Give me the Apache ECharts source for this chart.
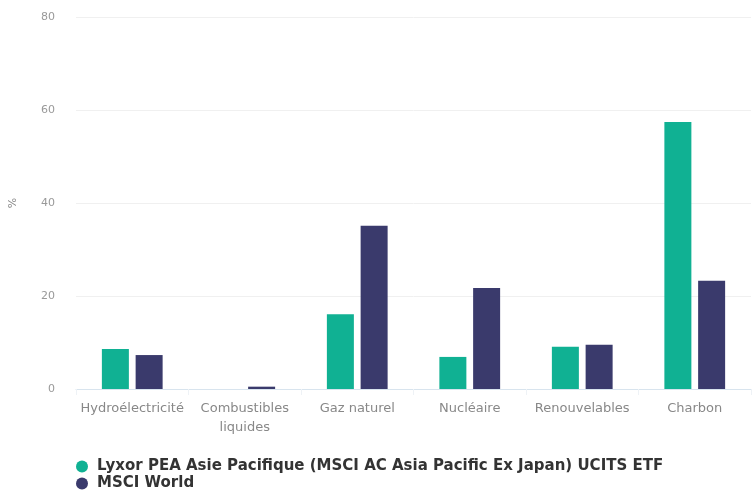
<!DOCTYPE html>
<html>
<head>
<meta charset="utf-8">
<script src="https://cdn.jsdelivr.net/npm/echarts@6/dist/echarts.min.js"></script>
<style>
  html, body { margin: 0; padding: 0; background: #fff; }
  #chart { width: 754px; height: 494px; }
</style>
</head>
<body>
<div id="chart"></div>
<script>
    const categories = ['Hydroélectricité', 'Combustibles\nliquides', 'Gaz naturel', 'Nucléaire', 'Renouvelables', 'Charbon'];
    const lyxor = [8.6, 0, 16.1, 6.9, 9.1, 57.4];
    const msciWorld = [7.3, 0.5, 35.1, 21.7, 9.5, 23.3];
    const seriesNames = ['Lyxor PEA Asie Pacifique (MSCI AC Asia Pacific Ex Japan) UCITS ETF', 'MSCI World'];

    var myChart = echarts.init(document.getElementById('chart'));
    const option = {
        animation: false,
        textStyle: { fontFamily: 'DejaVu Sans' },
        grid: { left: 73, right: 3, top: 17, bottom: 105 },
        legend: {
            orient: 'vertical',
            left: 76,
            top: 459,
            padding: 0,
            itemWidth: 12,
            itemHeight: 12,
            itemGap: 2,
            icon: 'circle',
            textStyle: { color: '#333', fontSize: 15, fontWeight: 'bold', fontFamily: 'DejaVu Sans', padding: [0, 0, 0, 4] },
            data: seriesNames
        },
        xAxis: {
            type: 'category',
            data: categories,
            axisLine: { lineStyle: { color: '#d8e4ee' } },
            axisTick: { show: true, length: 6, lineStyle: { color: '#eef2f6' } },
            axisLabel: { color: '#888', fontSize: 13, interval: 0, margin: 10, lineHeight: 19 }
        },
        yAxis: {
            type: 'value',
            min: 0,
            max: 80,
            interval: 20,
            name: '%',
            nameLocation: 'middle',
            nameGap: 57,
            nameTextStyle: { color: '#888', fontSize: 11 },
            axisLabel: { color: '#999', fontSize: 11, margin: 21 },
            splitLine: { lineStyle: { color: '#f0f0f0' } }
        },
        series: [
            {
                name: seriesNames[0],
                type: 'bar',
                data: lyxor,
                barWidth: 27,
                barGap: '25%',
                itemStyle: { color: '#10b193' }
            },
            {
                name: seriesNames[1],
                type: 'bar',
                data: msciWorld,
                barWidth: 27,
                itemStyle: { color: '#3a3a6c' }
            }
        ]
    };
    myChart.setOption(option);
</script>
</body>
</html>
